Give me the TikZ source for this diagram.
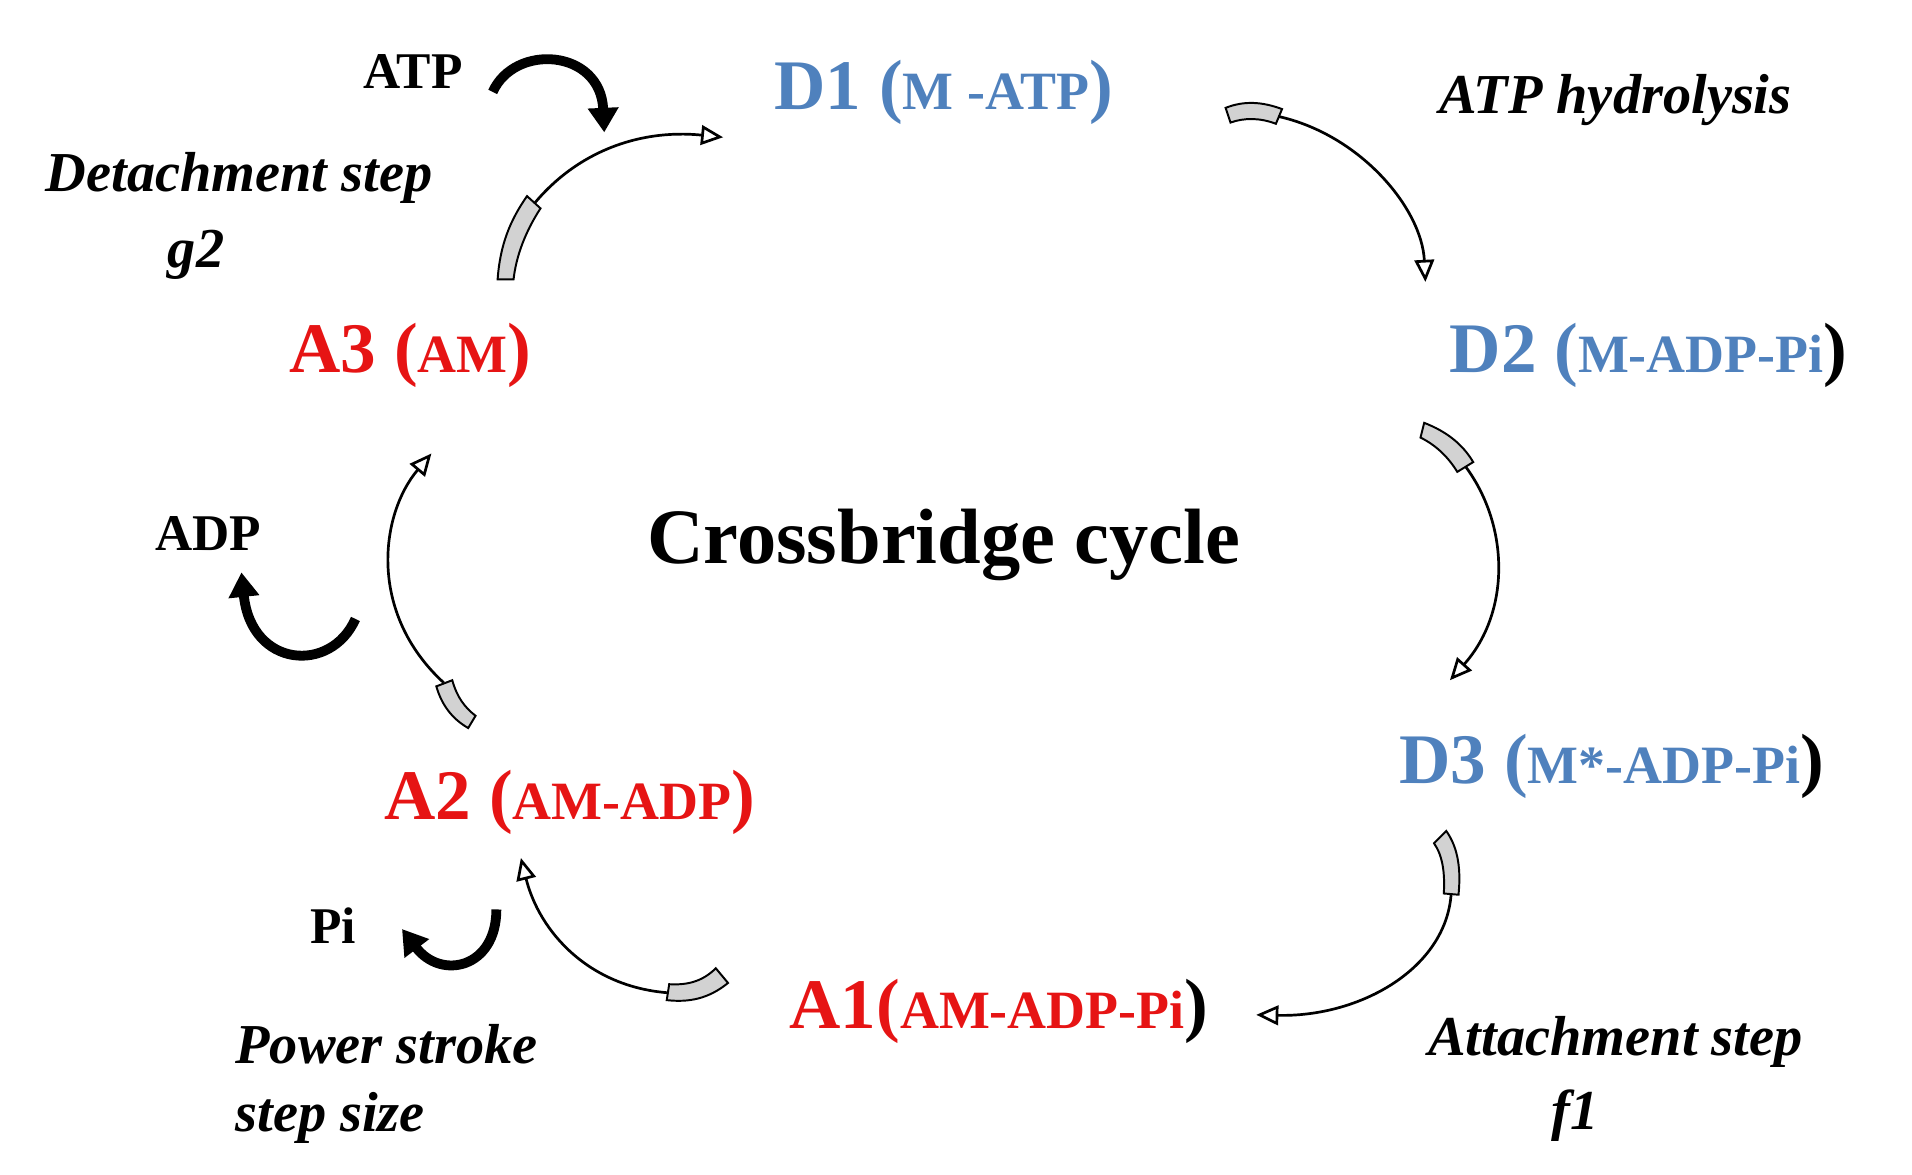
\documentclass[tikz,border=0pt]{standalone}
\usepackage{fontspec}
\setmainfont{Liberation Serif}
\usetikzlibrary{arrows.meta}
\definecolor{dblue}{RGB}{79,129,189}
\definecolor{ared}{RGB}{230,20,20}
\begin{document}
\begin{tikzpicture}[x=0.5pt,y=-0.5pt,
  st/.style={font=\bfseries\fontsize{29}{32}\selectfont},
  lab/.style={font=\bfseries\itshape\fontsize{23}{25}\selectfont},
  sm/.style={font=\bfseries\fontsize{21}{23}\selectfont},
  cyc/.style={line width=1.1pt,-{Triangle[open,fill=white,length=9pt,width=8pt]}},
  tailg/.style={draw=black,line width=0.8pt,fill=gray!35},
  blk/.style={line width=4pt,-{Triangle[length=10pt,width=12pt]}}]
\useasboundingbox (0,0) rectangle (1560,958);
\node[st,text=dblue] (D1) at (770,75) {D1 ({\fontsize{22}{24}\selectfont M -ATP})};
\node[st,text=dblue] (D2) at (1345,290) {D2 ({\fontsize{22}{24}\selectfont M-ADP-Pi}\textcolor{black}{)}};
\node[st,text=dblue] (D3) at (1315,625) {D3 ({\fontsize{22}{24}\selectfont M*-ADP-Pi}\textcolor{black}{)}};
\node[st,text=ared] (A1) at (815,825) {A1({\fontsize{22}{24}\selectfont AM-ADP-Pi}\textcolor{black}{)}};
\node[st,text=ared] (A2) at (465,655) {A2 ({\fontsize{22}{24}\selectfont AM-ADP})};
\node[st,text=ared] (A3) at (335,290) {A3 ({\fontsize{22}{24}\selectfont AM})};
\node[font=\bfseries\fontsize{32}{34}\selectfont] (C) at (770,445) {Crossbridge cycle};
\node[sm] (ATP) at (337,58) {ATP};
\node[sm] (ADP) at (170,435) {ADP};
\node[sm] (Pi) at (272,755) {Pi};
\node[lab] (h) at (1318,82) {ATP hydrolysis};
\node[lab] (det) at (195,145) {Detachment step};
\node[lab] (g2) at (160,208) {g2};
\node[lab,anchor=west] (pow) at (185,852) {Power stroke};
\node[lab,anchor=west] (ss) at (185,912) {step size};
\node[lab] (att) at (1318,850) {Attachment step};
\node[lab] (f1) at (1285,910) {f1};
% grey tails
\fill[tailg] (406,228) .. controls (408,200) and (416,180) .. (430,160) -- (441,170) .. controls (428,190) and (421,210) .. (419,228) -- cycle;
\fill[tailg] (1000,88) .. controls (1015,82) and (1030,83) .. (1046,89) -- (1041,101) .. controls (1028,96) and (1015,96) .. (1004,100) -- cycle;
\fill[tailg] (1162,345) .. controls (1180,352) and (1193,362) .. (1202,377) -- (1189,385) .. controls (1181,372) and (1171,363) .. (1159,357) -- cycle;
\fill[tailg] (1180,678) .. controls (1190,692) and (1192,710) .. (1190,730) -- (1178,729) .. controls (1179,712) and (1177,698) .. (1170,688) -- cycle;
\fill[tailg] (594,802) .. controls (578,815) and (562,818) .. (544,816) -- (546,803) .. controls (562,804) and (574,800) .. (584,790) -- cycle;
\fill[tailg] (382,594) .. controls (368,586) and (360,574) .. (356,560) -- (369,555) .. controls (373,569) and (379,577) .. (388,584) -- cycle;
% cycle arrows
\draw[cyc] (436,166) .. controls (470,125) and (520,105) .. (590,112);
\draw[cyc] (1043,95) .. controls (1110,110) and (1160,170) .. (1163,230);
\draw[cyc] (1196,381) .. controls (1232,430) and (1232,500) .. (1183,555);
\draw[cyc] (1184,729) .. controls (1180,790) and (1110,830) .. (1025,828);
\draw[cyc] (545,810) .. controls (480,805) and (440,760) .. (425,700);
\draw[cyc] (362,557) .. controls (300,500) and (310,420) .. (352,370);
% black arrows
\draw[blk] (402,75) .. controls (420,35) and (490,40) .. (493,108);
\draw[blk] (290,505) .. controls (270,550) and (205,545) .. (197,467);
\draw[blk] (405,742) .. controls (405,790) and (360,800) .. (328,758);
\end{tikzpicture}
\end{document}
